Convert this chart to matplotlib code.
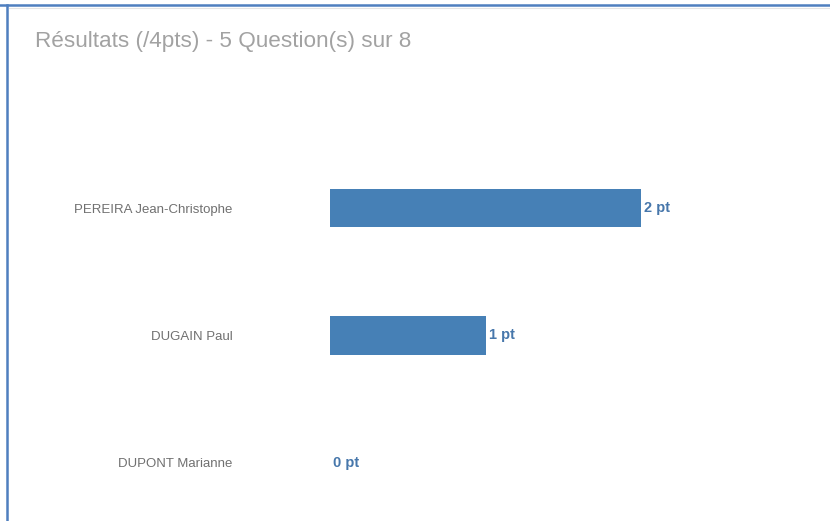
import matplotlib.pyplot as plt
from matplotlib.lines import Line2D

names = ["PEREIRA Jean-Christophe", "DUGAIN Paul", "DUPONT Marianne"]
points = [2, 1, 0]
value_labels = ["2 pt", "1 pt", "0 pt"]
title = "Résultats (/4pts) - 5 Question(s) sur 8"

plt.rcParams['font.family'] = ['Liberation Sans', 'DejaVu Sans']

W, H = 830, 521
fig = plt.figure(figsize=(W / 100, H / 100), dpi=100)

# frame lines of the panel
fig.add_artist(Line2D([0, 1], [1 - 5 / H, 1 - 5 / H], color="#4f7fbf", lw=1.8))
fig.add_artist(Line2D([7 / W, 7 / W], [0, 1 - 5 / H], color="#4f7fbf", lw=1.8))
fig.add_artist(Line2D([9 / W, 1], [1 - 8 / H, 1 - 8 / H], color="#e4e4e4", lw=0.8))

fig.text(35 / W, 1 - 41 / H, title, fontsize=16.2, color="#a2a2a2",
         ha="left", va="center")

# axes: x from 330px, bars centred at 208 / 335.5 / 463 px
px_per_pt = 155.5
left, right = 330, 812
top_px, bot_px = 144.25, 526.75
ax = fig.add_axes([left / W, 1 - bot_px / H, (right - left) / W, (bot_px - top_px) / H])
ax.set_xlim(0, (right - left) / px_per_pt)
ypos = list(range(len(names)))
ax.set_ylim(len(names) - 0.5, -0.5)
ax.barh(ypos, points, height=0.3, color="#4680b6")
for y, v, lab in zip(ypos, points, value_labels):
    ax.text(v + 3 / px_per_pt, y, lab, color="#4777ab", fontsize=10.5,
            fontweight="bold", ha="left", va="center")
ax.set_yticks(ypos)
ax.set_yticklabels(names, fontsize=9.5, color="#707070")
ax.tick_params(axis="y", length=0, pad=70)
ax.set_xticks([])
for s in ax.spines.values():
    s.set_visible(False)

fig.savefig("out.png", dpi=100)
